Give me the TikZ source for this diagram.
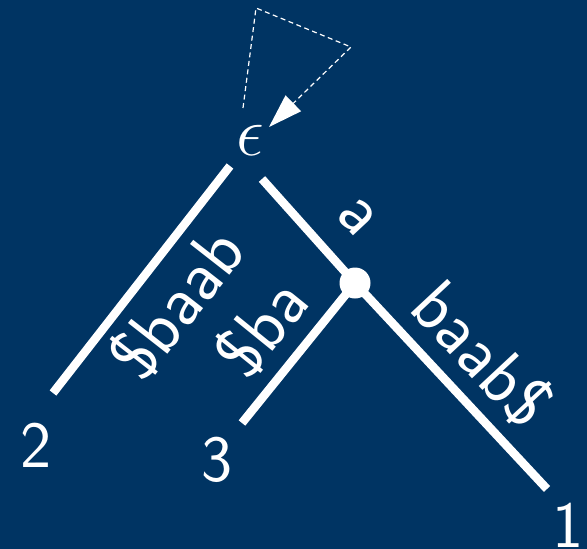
\RequirePackage{fix-cm}
\documentclass[tikz,border=0pt]{standalone}
\usepackage{fontspec}
\usetikzlibrary{arrows.meta}
\definecolor{bg}{HTML}{003463}
\begin{document}
\begin{tikzpicture}[x=1pt,y=-1pt,
  edge/.style={white, line width=8.5pt},
  lbl/.style={text=white, font=\sffamily\fontsize{72}{72}\selectfont, inner sep=0pt},
  leaf/.style={text=white, font=\sffamily\fontsize{66}{66}\selectfont, inner sep=0pt},
  loopline/.style={white, line width=1.2pt, dash pattern=on 5pt off 3.5pt, -{Triangle[length=34pt,width=22pt]}}
]
\fill[bg] (0,0) rectangle (587,549);
\useasboundingbox (0,0) rectangle (587,549);
% nodes
\node[text=white, font=\fontsize{70}{70}\selectfont, inner sep=0pt] (root) at (250,140) {$\epsilon$};
\node[circle, fill=white, minimum size=31pt, inner sep=0pt] (n) at (355,283) {};
\node[leaf] (L2) at (36,445) {2};
\node[leaf] (L3) at (217,460) {3};
\node[leaf] (L1) at (568,525) {1};
% edge end points
\coordinate (rl) at (230,166);
\coordinate (rr) at (262,179);
\coordinate (e2) at (53,393);
\coordinate (e3) at (242,423);
\coordinate (e1) at (547,489);
\draw[edge] (rl) -- (e2);
\draw[edge] (rr) -- (n.center);
\draw[edge] (n.center) -- (e1);
\draw[edge] (n.center) -- (e3);
% labels
\node[lbl, rotate=52] (t1) at (176,303) {\$baab};
\node[lbl, rotate=51] (t2) at (261,327) {\$ba};
\node[lbl, rotate=-47] (t3) at (357,217) {a};
\node[lbl, rotate=-47] (t4) at (483,354) {baab\$};
% loop
\coordinate (ls) at (243,108);
\coordinate (lt) at (256,8);
\coordinate (lr) at (351,47);
\coordinate (le) at (269,127);
\draw[loopline] (ls) -- (lt) -- (lr) -- (le);
\end{tikzpicture}
\end{document}
